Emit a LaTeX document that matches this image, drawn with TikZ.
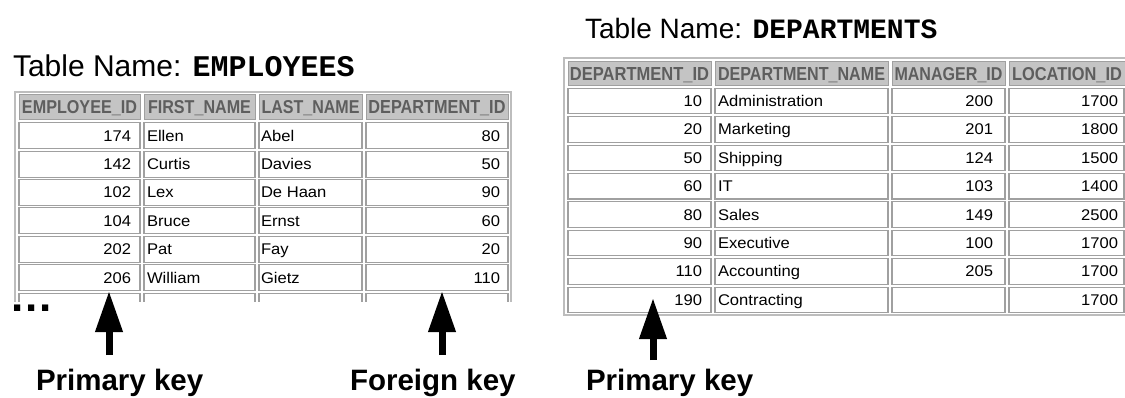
\documentclass[tikz,border=0pt]{standalone}
\usepackage{fontspec}
\usepackage{graphicx}
\setmainfont{Liberation Sans}
\newfontfamily\monob{Liberation Mono}
\newfontfamily\cellfont[FakeStretch=1.07]{Liberation Sans}
\usetikzlibrary{arrows.meta}
\definecolor{hdrfill}{HTML}{C4C4C4}
\definecolor{hdrtext}{HTML}{5E5E5E}
\definecolor{cellline}{HTML}{A0A0A0}
\definecolor{outerline}{HTML}{BDBDBD}
\newcommand\hdrtxt[2]{\resizebox{#1}{13pt}{\bfseries #2}}
\tikzset{
  every node/.style={inner sep=0pt, outer sep=0pt},
  hdrcell/.style={fill=hdrfill, draw=cellline, line width=1pt, anchor=north west},
  datacell/.style={fill=white, draw=cellline, line width=1.1pt, anchor=north west},
  outerframe/.style={draw=outerline, line width=1.5pt},
  hdrlabel/.style={anchor=base, text=hdrtext},
  numtxt/.style={anchor=base east, font=\cellfont\fontsize{15.5}{15.5}\selectfont, text=black},
  strtxt/.style={anchor=base west, font=\cellfont\fontsize{15.5}{15.5}\selectfont, text=black},
  keyarrow/.style={line width=7pt, -{Triangle[length=41pt,width=26pt]}},
  keylabel/.style={font=\bfseries\fontsize{29.5}{29.5}\selectfont, anchor=base west},
  titletext/.style={anchor=base west}
}
\begin{document}
\begin{tikzpicture}[x=1pt,y=-1pt]
\useasboundingbox (0,0) rectangle (1125,398);
\clip (0,0) rectangle (1125,398);
\fill[white] (0,0) rectangle (1125,398);

% ---------- titles ----------
\node[titletext, font=\fontsize{30}{30}\selectfont] (t1) at (13,77) {Table Name: {\monob\bfseries EMPLOYEES}};
\node[titletext, font=\fontsize{28}{28}\selectfont] (t2) at (585,39) {Table Name: {\monob\bfseries DEPARTMENTS}};

% ---------- EMPLOYEES table ----------
\draw[outerframe] (15,305) -- (15,92) -- (511,92) -- (511,305);
\node[hdrcell, minimum width=121pt, minimum height=25pt] (eh1) at (19,95) {};
\node[hdrcell, minimum width=111pt, minimum height=25pt] (eh2) at (144,95) {};
\node[hdrcell, minimum width=103pt, minimum height=25pt] (eh3) at (259,95) {};
\node[hdrcell, minimum width=142pt, minimum height=25pt] (eh4) at (366,95) {};
\node[hdrlabel] (eh1t) at ([yshift=-6.5pt]eh1.center) {\hdrtxt{115pt}{EMPLOYEE\_ID}};
\node[hdrlabel] (eh2t) at ([yshift=-6.5pt]eh2.center) {\hdrtxt{103pt}{FIRST\_NAME}};
\node[hdrlabel] (eh3t) at ([yshift=-6.5pt]eh3.center) {\hdrtxt{98pt}{LAST\_NAME}};
\node[hdrlabel] (eh4t) at ([yshift=-6.5pt]eh4.center) {\hdrtxt{137pt}{DEPARTMENT\_ID}};

\foreach \id/\fn/\ln/\dep [count=\i from 0] in
  {174/Ellen/Abel/80, 142/Curtis/Davies/50, 102/Lex/De Haan/90,
   104/Bruce/Ernst/60, 202/Pat/Fay/20, 206/William/Gietz/110}{
  \node[datacell, minimum width=121pt, minimum height=26pt] (e\i-1) at (19,{122.7+28.4*\i}) {};
  \node[datacell, minimum width=111pt, minimum height=26pt] (e\i-2) at (144,{122.7+28.4*\i}) {};
  \node[datacell, minimum width=103pt, minimum height=26pt] (e\i-3) at (259,{122.7+28.4*\i}) {};
  \node[datacell, minimum width=142pt, minimum height=26pt] (e\i-4) at (366,{122.7+28.4*\i}) {};
  \node[numtxt] (e\i-1t) at ([xshift=-9pt,yshift=-5.5pt]e\i-1.east) {\id};
  \node[strtxt] (e\i-2t) at ([xshift=3pt,yshift=-5.5pt]e\i-2.west) {\fn};
  \node[strtxt] (e\i-3t) at ([xshift=2pt,yshift=-5.5pt]e\i-3.west) {\ln};
  \node[numtxt] (e\i-4t) at ([xshift=-8pt,yshift=-5.5pt]e\i-4.east) {\dep};
}
% partially visible row
\foreach \xa/\xb in {19/140, 144/255, 259/362, 366/508}{
  \draw[draw=cellline, line width=1.1pt] (\xa,305) -- (\xa,293.3) -- (\xb,293.3) -- (\xb,305);
}
\fill[white] (0,301.5) rectangle (520,320);

\node[font=\bfseries\fontsize{44}{44}\selectfont, anchor=base west] (dots) at (12,311) {.\kern1.4pt.\kern1.4pt.};

% ---------- DEPARTMENTS table ----------
\draw[outerframe] (564,58) rectangle (1128,315);
\node[hdrcell, minimum width=143pt, minimum height=24.5pt] (dh1) at (568,61.5) {};
\node[hdrcell, minimum width=173pt, minimum height=24.5pt] (dh2) at (715,61.5) {};
\node[hdrcell, minimum width=113pt, minimum height=24.5pt] (dh3) at (892,61.5) {};
\node[hdrcell, minimum width=116pt, minimum height=24.5pt] (dh4) at (1009,61.5) {};
\node[hdrlabel] (dh1t) at ([yshift=-6.5pt]dh1.center) {\hdrtxt{139pt}{DEPARTMENT\_ID}};
\node[hdrlabel] (dh2t) at ([yshift=-6.5pt]dh2.center) {\hdrtxt{167pt}{DEPARTMENT\_NAME}};
\node[hdrlabel] (dh3t) at ([yshift=-6.5pt]dh3.center) {\hdrtxt{108pt}{MANAGER\_ID}};
\node[hdrlabel] (dh4t) at ([yshift=-6.5pt]dh4.center) {\hdrtxt{110pt}{LOCATION\_ID}};

\foreach \did/\dn/\mg/\loc [count=\i from 0] in
  {10/Administration/200/1700, 20/Marketing/201/1800, 50/Shipping/124/1500,
   60/IT/103/1400, 80/Sales/149/2500, 90/Executive/100/1700,
   110/Accounting/205/1700, 190/Contracting//1700}{
  \node[datacell, minimum width=143pt, minimum height=25.5pt] (d\i-1) at (568,{88.3+28.4*\i}) {};
  \node[datacell, minimum width=173pt, minimum height=25.5pt] (d\i-2) at (715,{88.3+28.4*\i}) {};
  \node[datacell, minimum width=113pt, minimum height=25.5pt] (d\i-3) at (892,{88.3+28.4*\i}) {};
  \node[datacell, minimum width=115pt, minimum height=25.5pt] (d\i-4) at (1009,{88.3+28.4*\i}) {};
  \node[numtxt] (d\i-1t) at ([xshift=-9pt,yshift=-5.5pt]d\i-1.east) {\did};
  \node[strtxt] (d\i-2t) at ([xshift=3pt,yshift=-5.5pt]d\i-2.west) {\dn};
  \node[numtxt] (d\i-3t) at ([xshift=-12pt,yshift=-5.5pt]d\i-3.east) {\mg};
  \node[numtxt] (d\i-4t) at ([xshift=-6pt,yshift=-5.5pt]d\i-4.east) {\loc};
}

% ---------- key labels and arrows ----------
\node[keylabel] (pk1) at (36,390) {Primary key};
\node[keylabel] (fk) at (350,390) {Foreign key};
\node[keylabel] (pk2) at (586,390) {Primary key};

\coordinate (a1s) at (109,355);
\coordinate (a1e) at (109,291);
\coordinate (a2s) at (442,355);
\coordinate (a2e) at (442,291);
\coordinate (a3s) at (653,360);
\coordinate (a3e) at (653,298);
\draw[keyarrow] (a1s) -- (a1e);
\draw[keyarrow] (a2s) -- (a2e);
\draw[keyarrow] (a3s) -- (a3e);
\end{tikzpicture}
\end{document}
